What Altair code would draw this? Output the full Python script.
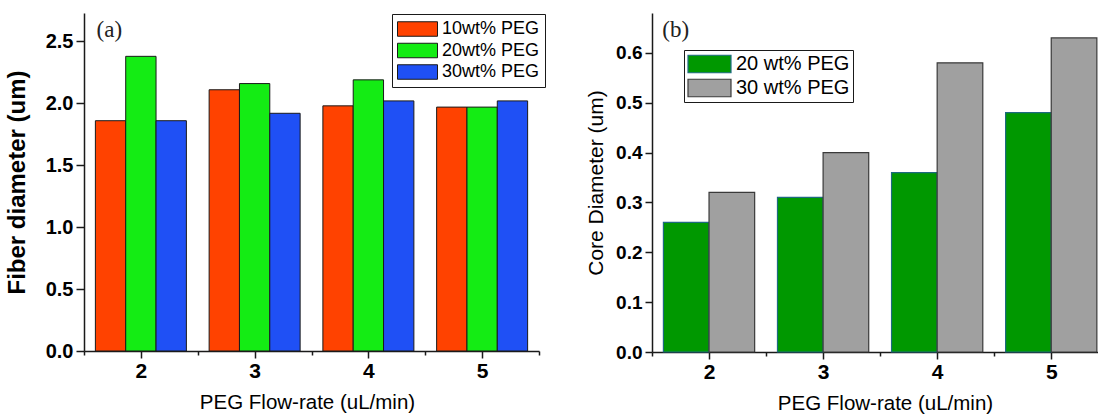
import altair as alt
import pandas as pd

# ---------------- data ----------------
flow = [2, 3, 4, 5]

series_a = ["10wt% PEG", "20wt% PEG", "30wt% PEG"]
fiber_10 = [1.86, 2.11, 1.98, 1.97]
fiber_20 = [2.38, 2.16, 2.19, 1.97]
fiber_30 = [1.86, 1.92, 2.02, 2.02]

series_b = ["20 wt% PEG", "30 wt% PEG"]
core_20 = [0.26, 0.31, 0.36, 0.48]
core_30 = [0.32, 0.40, 0.58, 0.63]

x_ticks = [1.5, 2, 2.5, 3, 3.5, 4, 4.5, 5, 5.5]
y_ticks_a = [0, 0.25, 0.5, 0.75, 1.0, 1.25, 1.5, 1.75, 2.0, 2.25, 2.5]
y_ticks_b = [0, 0.05, 0.1, 0.15, 0.2, 0.25, 0.3, 0.35, 0.4, 0.45, 0.5, 0.55, 0.6, 0.65]

rows_a = []
for i, (name, vals) in enumerate(zip(series_a, [fiber_10, fiber_20, fiber_30])):
    for f, v in zip(flow, vals):
        rows_a.append({"flow": f, "series": name, "idx": i, "value": v})
df_a = pd.DataFrame(rows_a)

rows_b = []
for i, (name, vals) in enumerate(zip(series_b, [core_20, core_30])):
    for f, v in zip(flow, vals):
        rows_b.append({"flow": f, "series": name, "idx": i, "value": v})
df_b = pd.DataFrame(rows_b)

FONT = "Liberation Sans"
SERIF = "Liberation Serif"
AX = "#1a1a1a"


def x_axis(title_x):
    return alt.Axis(
        values=x_ticks,
        labelExpr="datum.value % 1 === 0 ? format(datum.value, 'd') : ''",
        tickSize={"condition": {"test": "datum.value % 1 === 0", "value": 7}, "value": 4},
        labelFont=FONT, labelFontSize=21, labelFontWeight="bold", labelColor="black",
        labelPadding=2, labelOverlap=False, labelFlush=False,
        domainColor=AX, domainWidth=1.5, tickColor=AX, tickWidth=1.5, grid=False,
        titleFont=FONT, titleFontSize=20.5, titleFontWeight="normal", titleColor="black",
        titlePadding=11, titleX=title_x, titleAlign="center",
    )


# ---------------- panel (a) ----------------
n_a = len(series_a)
base_a = alt.Chart(df_a).transform_calculate(
    x0=f"datum.flow - 0.4 + datum.idx * 0.8 / {n_a}",
    x1=f"datum.flow - 0.4 + (datum.idx + 1) * 0.8 / {n_a}",
)
bars_a = base_a.mark_bar(stroke="#1a1a1a", strokeWidth=1, opacity=1).encode(
    x=alt.X("x0:Q", title="PEG Flow-rate (uL/min)",
            scale=alt.Scale(domain=[1.5, 5.5], nice=False, zero=False), axis=x_axis(223)),
    x2="x1:Q",
    y=alt.Y("value:Q", title="Fiber diameter (um)",
            scale=alt.Scale(domain=[0, 2.73], nice=False),
            axis=alt.Axis(
                values=y_ticks_a,
                labelExpr="round(datum.value * 100) % 50 === 0 ? format(datum.value, '.1f') : ''",
                tickSize={"condition": {"test": "round(datum.value * 100) % 50 === 0", "value": 8}, "value": 5},
                labelFont=FONT, labelFontSize=20, labelFontWeight="bold", labelColor="black",
                labelPadding=3, labelOverlap=False, labelFlush=False,
                domainColor=AX, domainWidth=1.5, tickColor=AX, tickWidth=1.5, grid=False,
                titleFont=FONT, titleFontSize=24, titleFontWeight="bold", titleColor="black",
                titlePadding=16,
            )),
    y2=alt.datum(0),
    color=alt.Color("series:N", title=None,
                    scale=alt.Scale(domain=series_a, range=["#FF4200", "#14EC14", "#1F50F5"]),
                    legend=alt.Legend(
                        orient="none", legendX=308, legendY=1,
                        symbolType="M-1,-0.3625L1,-0.3625L1,0.3625L-1,0.3625Z",
                        symbolSize=1600, symbolStrokeColor="#1a1a1a", symbolStrokeWidth=1,
                        symbolOpacity=1, clipHeight=20, rowPadding=1.5,
                        labelFont=FONT, labelFontSize=18, labelColor="black", labelOffset=4,
                        padding=5, strokeColor="#1a1a1a",
                    )),
)
lab_a = alt.Chart(pd.DataFrame({"label": ["(a)"]})).mark_text(
    font=SERIF, fontSize=23, color="#222", align="left", baseline="middle"
).encode(x=alt.datum(1.61), y=alt.datum(2.59), text="label:N")
panel_a = alt.layer(bars_a, lab_a).properties(width=455, height=338)

# ---------------- panel (b) ----------------
n_b = len(series_b)
base_b = alt.Chart(df_b).transform_calculate(
    x0=f"datum.flow - 0.4 + datum.idx * 0.8 / {n_b}",
    x1=f"datum.flow - 0.4 + (datum.idx + 1) * 0.8 / {n_b}",
)
leg_b = alt.Legend(
    orient="none", legendX=32, legendY=37,
    symbolType="M-1,-0.407L1,-0.407L1,0.407L-1,0.407Z",
    symbolSize=1849, symbolStrokeWidth=1.2, symbolOpacity=1,
    clipHeight=22, rowPadding=2,
    labelFont=FONT, labelFontSize=20, labelColor="black", labelOffset=4,
    padding=3, strokeColor="#1a1a1a",
)
bars_b = base_b.mark_bar(strokeWidth=1.2, opacity=1).encode(
    x=alt.X("x0:Q", title="PEG Flow-rate (uL/min)",
            scale=alt.Scale(domain=[1.5, 5.41], nice=False, zero=False), axis=x_axis(233)),
    x2="x1:Q",
    y=alt.Y("value:Q", title="Core Diameter (um)",
            scale=alt.Scale(domain=[0, 0.68], nice=False),
            axis=alt.Axis(
                values=y_ticks_b,
                labelExpr="round(datum.value * 100) % 10 === 0 ? format(datum.value, '.1f') : ''",
                tickSize={"condition": {"test": "round(datum.value * 100) % 10 === 0", "value": 7}, "value": 4},
                labelFont=FONT, labelFontSize=19, labelFontWeight="bold", labelColor="black",
                labelPadding=3, labelOverlap=False, labelFlush=False,
                domainColor=AX, domainWidth=1.5, tickColor=AX, tickWidth=1.5, grid=False,
                titleFont=FONT, titleFontSize=21, titleFontWeight="normal", titleColor="black",
                titlePadding=9,
            )),
    y2=alt.datum(0),
    color=alt.Color("series:N", title=None,
                    scale=alt.Scale(domain=series_b, range=["#009800", "#A0A0A0"]),
                    legend=leg_b),
    stroke=alt.Stroke("series:N", title=None,
                      scale=alt.Scale(domain=series_b, range=["#1d6a80", "#3a3a3a"]),
                      legend=leg_b),
)
lab_b = alt.Chart(pd.DataFrame({"label": ["(b)"]})).mark_text(
    font=SERIF, fontSize=23, color="#222", align="left", baseline="middle"
).encode(x=alt.datum(1.59), y=alt.datum(0.646), text="label:N")
panel_b = alt.layer(bars_b, lab_b).properties(width=446, height=339)

chart = alt.hconcat(panel_a, panel_b, spacing=39).resolve_scale(
    color="independent", stroke="independent"
).properties(
    padding={"left": 5, "top": 13, "right": 0, "bottom": 0},
    background="white",
).configure_view(stroke=None)

chart.save("out.html", embed_options={"renderer": "svg", "actions": False})
